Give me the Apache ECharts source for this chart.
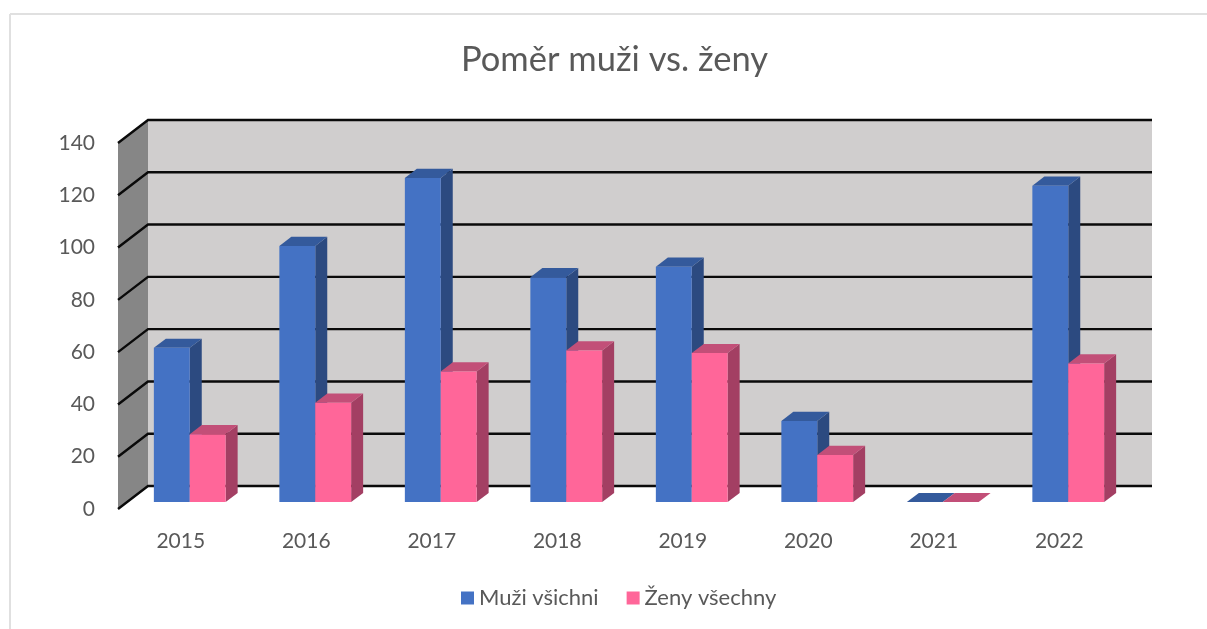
<!DOCTYPE html>
<html>
<head>
<meta charset="utf-8">
<title>Poměr muži vs. ženy</title>
<script src="https://cdn.jsdelivr.net/npm/echarts@6/dist/echarts.min.js"></script>
<style>
  html, body { margin: 0; padding: 0; background: #fff; }
  #main { width: 1207px; height: 629px; }
</style>
</head>
<body>
<div id="main"></div>
<script>
  var categories = ['2015', '2016', '2017', '2018', '2019', '2020', '2021', '2022'];
  var muzi = [59, 98, 124, 86, 90, 31, 0, 121];
  var zeny = [26, 38, 50, 58, 57, 18, 0, 53];
  var yTicks = [0, 20, 40, 60, 80, 100, 120, 140];

  // 3d look: how far the back wall sits from the axis plane, in pixels
  var DEPTH_X = 30, DEPTH_Y = -23;
  var BAR_FRONT = 0.3, BAR_BACK = 0.7;
  var BAR_SHARE = 0.286;

  function shift(p, d) {
    return [p[0] + DEPTH_X * d, p[1] + DEPTH_Y * d];
  }

  function poly(points, fill) {
    return { type: 'polygon', shape: { points: points }, style: { fill: fill, stroke: null } };
  }

  function walls(params, api) {
    var r = params.coordSys;
    var lt = [r.x, r.y], lb = [r.x, r.y + r.height], rb = [r.x + r.width, r.y + r.height], rt = [r.x + r.width, r.y];
    return {
      type: 'group',
      children: [
        poly([shift(lt, 1), shift(rt, 1), shift(rb, 1), shift(lb, 1)], '#D0CECE'),
        poly([lt, shift(lt, 1), shift(lb, 1), lb], '#868686')
      ]
    };
  }

  function gridLine(params, api) {
    var r = params.coordSys;
    var y = api.coord([0, api.value(0)])[1];
    return {
      type: 'polyline',
      shape: { points: [[r.x, y], shift([r.x, y], 1), shift([r.x + r.width, y], 1)] },
      style: { fill: null, stroke: '#0a0a0a', lineWidth: 2.4 }
    };
  }

  // slot 0 = left bar of the category, slot 1 = right bar
  function bar3d(slot, front, side, top) {
    return function (params, api) {
      var c = api.coord([api.value(0), api.value(1)]);
      var base = api.coord([api.value(0), 0]);
      var w = api.size([1, 0])[0] * BAR_SHARE;
      var x0 = c[0] + (slot - 1) * w, x1 = x0 + w;
      var tl = shift([x0, c[1]], BAR_FRONT), tr = shift([x1, c[1]], BAR_FRONT);
      var bl = shift([x0, base[1]], BAR_FRONT), br = shift([x1, base[1]], BAR_FRONT);
      var d = BAR_BACK - BAR_FRONT;
      return {
        type: 'group',
        children: [
          poly([tr, shift(tr, d), shift(br, d), br], side),
          poly([tl, tr, shift(tr, d), shift(tl, d)], top),
          poly([tl, tr, br, bl], front)
        ]
      };
    };
  }

  var chart = echarts.init(document.getElementById('main'));
  chart.setOption({
    animation: false,
    textStyle: { fontFamily: 'Lato' },
    title: {
      text: 'Poměr muži vs. ženy',
      left: 456,
      top: 37,
      textStyle: { fontFamily: 'Lato', fontSize: 34.5, fontWeight: 'normal', color: '#595959' }
    },
    legend: {
      data: ['Muži všichni', 'Ženy všechny'],
      left: 456,
      top: 582,
      icon: 'rect',
      itemWidth: 13,
      itemHeight: 13,
      itemGap: 28,
      textStyle: { fontFamily: 'Lato', fontSize: 22, color: '#595959' }
    },
    grid: { left: 118, top: 143, width: 1004, height: 366 },
    xAxis: {
      type: 'category',
      data: categories,
      axisLine: { show: false },
      axisTick: { show: false },
      axisLabel: { fontSize: 21, color: '#595959', margin: 22 }
    },
    yAxis: {
      type: 'value',
      min: 0,
      max: 140,
      interval: 20,
      splitLine: { show: false },
      axisLine: { show: false },
      axisTick: { show: false },
      axisLabel: { fontSize: 21, color: '#595959', margin: 23 }
    },
    graphic: [
      { type: 'line', shape: { x1: 10, y1: 14, x2: 1207, y2: 14 }, style: { stroke: '#e0e0e0', lineWidth: 2 } },
      { type: 'line', shape: { x1: 10, y1: 14, x2: 10, y2: 629 }, style: { stroke: '#e0e0e0', lineWidth: 2 } }
    ],
    series: [
      { type: 'custom', z: 1, silent: true, renderItem: walls, data: [0], encode: { x: 0 } },
      { type: 'custom', z: 2, silent: true, renderItem: gridLine, data: yTicks.map(function (v) { return [v]; }), encode: { y: 0 } },
      {
        name: 'Muži všichni', type: 'custom', z: 3,
        itemStyle: { color: '#4472C4' },
        renderItem: bar3d(0, '#4472C4', '#2C4A80', '#345A9C'),
        data: muzi.map(function (v, i) { return [i, v]; }),
        encode: { x: 0, y: 1 }
      },
      {
        name: 'Ženy všechny', type: 'custom', z: 4,
        itemStyle: { color: '#FF6699' },
        renderItem: bar3d(1, '#FF6699', '#A33F63', '#C24F78'),
        data: zeny.map(function (v, i) { return [i, v]; }),
        encode: { x: 0, y: 1 }
      }
    ]
  });
</script>
</body>
</html>
